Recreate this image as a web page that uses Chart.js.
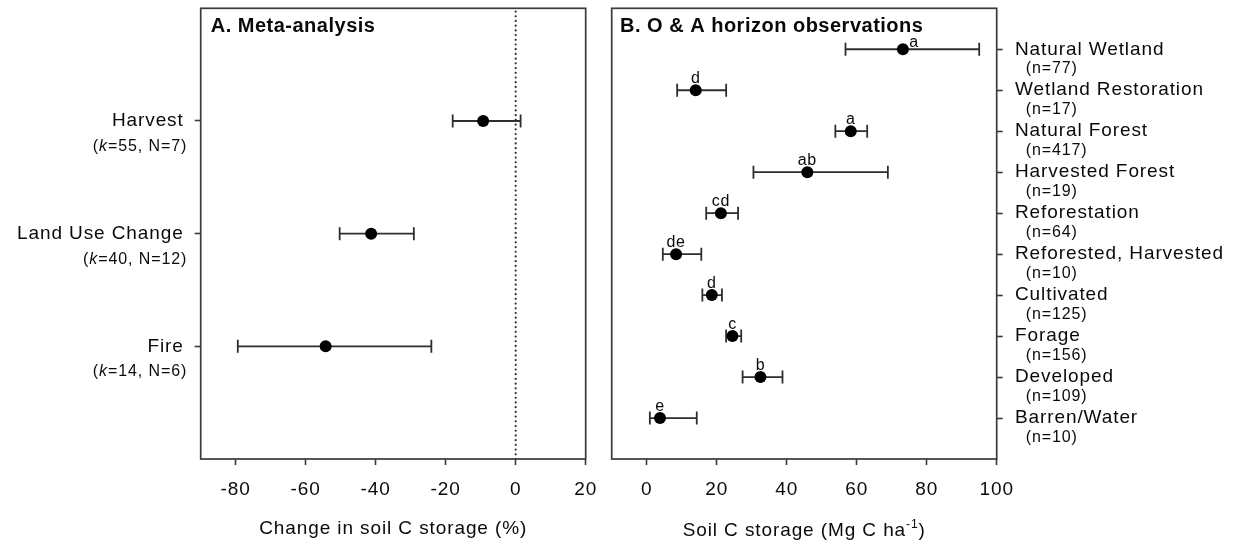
<!DOCTYPE html>
<html>
<head>
<meta charset="utf-8">
<script src="https://cdn.jsdelivr.net/npm/chart.js@4.4.1/dist/chart.umd.min.js"></script>
<style>
  html, body { margin: 0; padding: 0; background: #fff; }
  #wrap { position: relative; width: 1236px; height: 544px; overflow: hidden; }
  .panel { position: absolute; top: 0; height: 544px; }
  #pa { left: 0; width: 600px; }
  #pb { left: 600px; width: 636px; }
</style>
</head>
<body>
<div id="wrap">
  <div class="panel" id="pa"><canvas id="ca"></canvas></div>
  <div class="panel" id="pb"><canvas id="cb"></canvas></div>
</div>
<script>
// ---------- Panel A: meta-analysis ----------
const metaCategories = ['Harvest', 'Land Use Change', 'Fire'];
const metaK = [55, 40, 14];
const metaN = [7, 12, 6];
const metaMean = [-9.3, -41.3, -54.3];
const metaLow = [-18.0, -50.3, -79.4];
const metaHigh = [1.4, -29.1, -24.1];
const metaXTicks = [-80, -60, -40, -20, 0, 20];

// ---------- Panel B: O & A horizon observations ----------
const obsCategories = ['Natural Wetland', 'Wetland Restoration', 'Natural Forest', 'Harvested Forest',
  'Reforestation', 'Reforested, Harvested', 'Cultivated', 'Forage', 'Developed', 'Barren/Water'];
const obsN = [77, 17, 417, 19, 64, 10, 125, 156, 109, 10];
const obsMean = [73.2, 14.0, 58.3, 45.9, 21.2, 8.4, 18.6, 24.5, 32.5, 3.8];
const obsLow = [56.8, 8.7, 53.9, 30.5, 17.0, 4.6, 15.9, 22.7, 27.4, 0.9];
const obsHigh = [95.0, 22.7, 63.0, 68.9, 26.1, 15.6, 21.5, 27.0, 38.8, 14.3];
const obsLetters = ['a', 'd', 'a', 'ab', 'cd', 'de', 'd', 'c', 'b', 'e'];
const obsXTicks = [0, 20, 40, 60, 80, 100];

const FONT = '"Liberation Sans", Arial, Helvetica, sans-serif';
const INK = '#0a0a0a';
const LINE = '#2e2e2e';
const SPACING = 0.9;

function setFont(ctx, size, weight, style, spacing) {
  ctx.font = `${style || 'normal'} ${weight || 'normal'} ${size}px ${FONT}`;
  ctx.letterSpacing = (spacing === undefined ? SPACING : spacing) + 'px';
}

function buildDatasets(means, lows, highs) {
  const n = means.length;
  const rowY = i => n - i;
  const whisker = [];
  const caps = [];
  means.forEach((m, i) => {
    whisker.push({ x: lows[i], y: rowY(i) }, { x: highs[i], y: rowY(i) }, { x: highs[i], y: null });
    caps.push({ x: lows[i], y: rowY(i) }, { x: highs[i], y: rowY(i) });
  });
  const pts = means.map((m, i) => ({ x: m, y: rowY(i) }));
  return [
    { label: 'mean', data: pts, pointRadius: 6, pointBackgroundColor: '#000', pointBorderColor: '#000', pointBorderWidth: 0, order: 0 },
    { label: 'caps', data: caps, pointStyle: 'line', pointRotation: 90, pointRadius: 6.5, pointBorderColor: LINE, pointBorderWidth: 1.8, order: 1 },
    { label: 'ci', data: whisker, showLine: true, borderColor: LINE, borderWidth: 1.8, pointRadius: 0, spanGaps: false, order: 2 }
  ];
}

function makeOptions(cfg) {
  const gridCfg = { drawOnChartArea: false, drawTicks: true, tickLength: 6, tickWidth: 1.6, tickColor: '#3a3a3a' };
  return {
    responsive: true,
    maintainAspectRatio: false,
    animation: false,
    events: [],
    layout: { padding: cfg.padding },
    plugins: { legend: { display: false }, tooltip: { enabled: false } },
    scales: {
      x: {
        type: 'linear', min: cfg.xMin, max: cfg.xMax,
        afterBuildTicks: ax => { ax.ticks = cfg.xTicks.map(v => ({ value: v })); },
        afterFit: ax => { ax.height = 85; ax.paddingLeft = 0; ax.paddingRight = 0; },
        border: { display: false },
        grid: gridCfg,
        ticks: { autoSkip: false, maxRotation: 0, minRotation: 0, padding: 13, color: INK, font: { family: FONT, size: 19 } }
      },
      y: {
        type: 'linear', position: cfg.yPos, min: 0, max: cfg.yMax,
        afterBuildTicks: ax => { ax.ticks = cfg.yTicks.map(v => ({ value: v })); },
        afterFit: ax => { ax.width = cfg.yWidth; ax.paddingTop = 0; ax.paddingBottom = 0; },
        border: { display: false },
        grid: gridCfg,
        ticks: { display: false }
      }
    }
  };
}

const spacingPlugin = {
  id: 'spacing',
  beforeDraw(chart) { chart.ctx.letterSpacing = SPACING + 'px'; }
};
const framePlugin = {
  id: 'frame',
  beforeDatasetsDraw(chart) {
    const { ctx, chartArea: a } = chart;
    ctx.save();
    ctx.strokeStyle = '#3a3a3a';
    ctx.lineWidth = 1.7;
    ctx.strokeRect(a.left, a.top, a.right - a.left, a.bottom - a.top);
    ctx.restore();
  }
};

// ---------- Chart A ----------
const dsA = buildDatasets(metaMean, metaLow, metaHigh);
dsA.push({ label: 'zero', data: [{ x: 0, y: 0 }, { x: 0, y: metaCategories.length + 1 }], showLine: true,
  borderColor: LINE, borderWidth: 2.2, borderDash: [0.01, 4.7], borderCapStyle: 'round', pointRadius: 0, order: 3 });

const textA = {
  id: 'textA',
  afterDraw(chart) {
    const { ctx, chartArea: a } = chart;
    const ys = chart.scales.y;
    ctx.save();
    ctx.fillStyle = INK;
    // title
    setFont(ctx, 20, 'bold', 'normal', 0.5);
    ctx.textAlign = 'left'; ctx.textBaseline = 'middle';
    ctx.fillText('A. Meta-analysis', a.left + 10, a.top + 18.3);
    // category labels
    metaCategories.forEach((name, i) => {
      const py = ys.getPixelForValue(metaCategories.length - i);
      setFont(ctx, 19);
      ctx.textAlign = 'right'; ctx.textBaseline = 'middle';
      ctx.fillText(name, a.left - 17, py);
      const parts = [['(', 'normal'], ['k', 'italic'], ['=' + metaK[i] + ', N=' + metaN[i] + ')', 'normal']];
      let total = 0;
      const widths = parts.map(p => { setFont(ctx, 16, 'normal', p[1]); const w = ctx.measureText(p[0]).width; total += w; return w; });
      let x = a.left - 13.5 - total;
      ctx.textAlign = 'left';
      parts.forEach((p, j) => { setFont(ctx, 16, 'normal', p[1]); ctx.fillText(p[0], x, py + 25.7); x += widths[j]; });
    });
    // x-axis title
    setFont(ctx, 19);
    ctx.textAlign = 'center'; ctx.textBaseline = 'middle';
    ctx.fillText('Change in soil C storage (%)', (a.left + a.right) / 2, a.bottom + 69.5);
    ctx.restore();
  }
};

new Chart(document.getElementById('ca'), {
  type: 'scatter',
  data: { datasets: dsA },
  options: makeOptions({
    xMin: -90, xMax: 20, xTicks: metaXTicks, yMax: metaCategories.length + 1,
    yTicks: metaCategories.map((c, i) => metaCategories.length - i), yPos: 'left',
    padding: { left: 0, right: 14.3, top: 7.5, bottom: 0 }, yWidth: 200.7
  }),
  plugins: [spacingPlugin, framePlugin, textA]
});

// ---------- Chart B ----------
const dsB = buildDatasets(obsMean, obsLow, obsHigh);

const textB = {
  id: 'textB',
  afterDraw(chart) {
    const { ctx, chartArea: a } = chart;
    const ys = chart.scales.y, xs = chart.scales.x;
    const n = obsCategories.length;
    ctx.save();
    ctx.fillStyle = INK;
    setFont(ctx, 20, 'bold', 'normal', 0.5);
    ctx.textAlign = 'left'; ctx.textBaseline = 'middle';
    ctx.fillText('B. O & A horizon observations', a.left + 8.3, a.top + 18.3);
    obsCategories.forEach((name, i) => {
      const py = ys.getPixelForValue(n - i);
      setFont(ctx, 19);
      ctx.textAlign = 'left'; ctx.textBaseline = 'middle';
      ctx.fillText(name, a.right + 18.3, py);
      setFont(ctx, 16);
      ctx.fillText('(n=' + obsN[i] + ')', a.right + 29, py + 19.5);
      // significance letters
      const px = xs.getPixelForValue(obsMean[i]);
      setFont(ctx, 16, 'normal', 'normal', 0.6);
      ctx.textAlign = 'center'; ctx.textBaseline = 'alphabetic';
      if (i === 0) ctx.fillText(obsLetters[i], px + 11, py - 2.3);
      else ctx.fillText(obsLetters[i], px, py - 7.5);
    });
    // x-axis title with superscript
    const main = 'Soil C storage (Mg C ha', sup = '-1', tail = ')';
    setFont(ctx, 19); const w1 = ctx.measureText(main).width; const w3 = ctx.measureText(tail).width;
    setFont(ctx, 12); const w2 = ctx.measureText(sup).width;
    let x = (a.left + a.right) / 2 - (w1 + w2 + w3) / 2;
    const yb = a.bottom + 76.5;
    ctx.textAlign = 'left'; ctx.textBaseline = 'alphabetic';
    setFont(ctx, 19); ctx.fillText(main, x, yb); x += w1;
    setFont(ctx, 12); ctx.fillText(sup, x, yb - 8); x += w2;
    setFont(ctx, 19); ctx.fillText(tail, x, yb);
    ctx.restore();
  }
};

new Chart(document.getElementById('cb'), {
  type: 'scatter',
  data: { datasets: dsB },
  options: makeOptions({
    xMin: -10, xMax: 100, xTicks: obsXTicks, yMax: obsCategories.length + 1,
    yTicks: obsCategories.map((c, i) => obsCategories.length - i), yPos: 'right',
    padding: { left: 11.7, right: 0, top: 7.5, bottom: 0 }, yWidth: 239.3
  }),
  plugins: [spacingPlugin, framePlugin, textB]
});
</script>
</body>
</html>
